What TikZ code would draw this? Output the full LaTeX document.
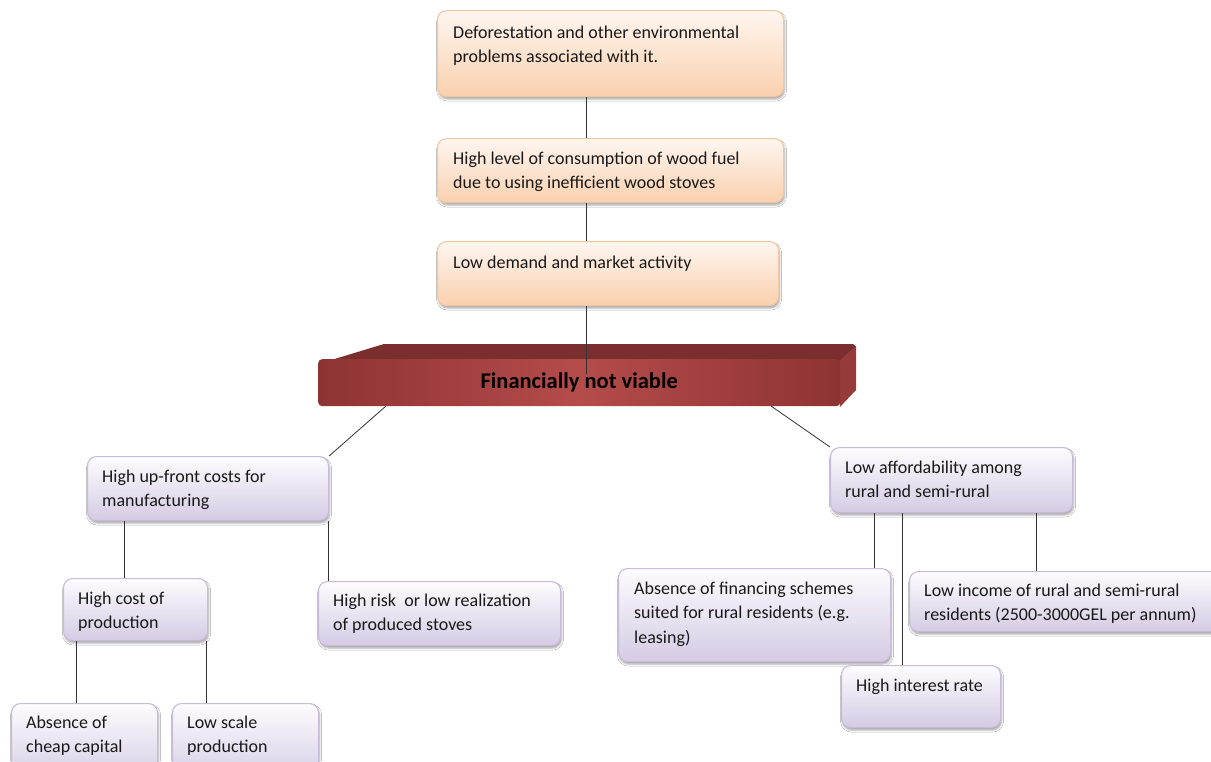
\documentclass[tikz,border=0pt]{standalone}
\usepackage{fontspec}
\setmainfont{Carlito}
\usetikzlibrary{shadows.blur,calc}
\definecolor{ortop}{HTML}{FEF6F0}
\definecolor{orbot}{HTML}{FAD0AE}
\definecolor{orline}{HTML}{F3C7A3}
\definecolor{putop}{HTML}{FDFCFE}
\definecolor{pubot}{HTML}{D5CBE4}
\definecolor{puline}{HTML}{C8BCDA}
\definecolor{banedge}{HTML}{8E3333}
\definecolor{banmid}{HTML}{B44C4A}
\definecolor{bantop}{HTML}{7A2E2E}
\definecolor{banside}{HTML}{963A3A}
\tikzset{
  boxbase/.style={anchor=north west, inner sep=0pt, rounded corners=9pt, line width=1.1pt,
    blur shadow={shadow xshift=1pt, shadow yshift=-2.5pt, shadow blur radius=2pt, shadow opacity=35}},
  obox/.style={boxbase, draw=orline, top color=ortop, bottom color=orbot},
  pbox/.style={boxbase, draw=puline, top color=putop, bottom color=pubot},
  txt/.style={anchor=north west, inner sep=0pt, align=left, text=black!90, yshift=-1.5pt,
    font=\fontsize{18}{24.5}\selectfont},
  link/.style={draw=black!80, line width=0.8pt},
}
\begin{document}
\begin{tikzpicture}[x=1pt,y=-1pt]
\useasboundingbox (0,0) rectangle (1211,761);
\fill[white] (0,0) rectangle (1211,761);

% top chain
\node[obox, minimum width=346pt, minimum height=86pt] (b1) at (437,10) {};
\node[txt] (t1) at (453,24) {Deforestation and other environmental\\problems associated with it.};
\node[obox, minimum width=346pt, minimum height=64pt] (b2) at (437,138) {};
\node[txt] (t2) at (453,150) {High level of consumption of wood fuel\\due to using inefficient wood stoves};
\node[obox, minimum width=341pt, minimum height=64pt] (b3) at (437,241) {};
\node[txt] (t3) at (453,254) {Low demand and market activity};

% banner
\fill[bantop] (318,364) -- (384,344) -- (853,344) -- (856,347) -- (840,361) -- cycle;
\fill[banside] (838,362) -- (856,346) -- (856,390) -- (840,407) -- cycle;
\node[anchor=north west, inner sep=0pt, rounded corners=4pt, minimum width=522pt, minimum height=47pt,
  left color=banedge, right color=banedge, middle color=banmid,
  font=\fontsize{22.5}{24}\selectfont\bfseries, text=black] (fin) at (318,359) {Financially not viable};

\coordinate (spine) at (586,0);
\coordinate (finin) at (586,374);
\draw[link] (spine |- b1.south) -- (spine |- b2.north);
\draw[link] (spine |- b2.south) -- (spine |- b3.north);
\draw[link] (spine |- b3.south) -- (finin);

% second level
\node[pbox, minimum width=241pt, minimum height=64pt] (b5) at (87,456) {};
\node[txt] (t5) at (102,468) {High up-front costs for\\manufacturing};
\node[pbox, minimum width=242pt, minimum height=65pt] (b6) at (830,447) {};
\node[txt] (t6) at (845,459) {Low affordability among\\rural and semi-rural};

\coordinate (finL) at (386,406);
\coordinate (finR) at (771,406);
\draw[link] (finL) -- (b5.north east);
\draw[link] (finR) -- (b6.north west);

% left branch
\node[pbox, minimum width=144pt, minimum height=62pt] (b7) at (63,578) {};
\node[txt] (t7) at (78,590) {High cost of\\production};
\node[pbox, minimum width=242pt, minimum height=64pt] (b8) at (318,581) {};
\node[txt] (t8) at (333,592) {High risk\ \ or low realization\\of produced stoves};
\node[pbox, minimum width=146pt, minimum height=80pt] (b9) at (11,703) {};
\node[txt] (t9) at (26,714) {Absence of\\cheap capital};
\node[pbox, minimum width=146pt, minimum height=80pt] (b10) at (172,703) {};
\node[txt] (t10) at (187,714) {Low scale\\production};

\coordinate (xa) at (124,0);
\coordinate (xb) at (328,0);
\coordinate (xc) at (76,0);
\coordinate (xd) at (206,0);
\draw[link] (xa |- b5.south) -- (xa |- b7.north);
\draw[link] (xb |- b5.south) -- (xb |- b8.north);
\draw[link] (xc |- b7.south) -- (xc |- b9.north);
\draw[link] (xd |- b7.south) -- (xd |- b10.north);

% right branch
\node[pbox, minimum width=272pt, minimum height=93pt] (b11) at (618,568) {};
\node[txt] (t11) at (634,580) {Absence of financing schemes\\suited for rural residents (e.g.\\leasing)};
\node[pbox, minimum width=320pt, minimum height=60pt] (b12) at (909,571) {};
\node[txt] (t12) at (924,582) {Low income of rural and semi-rural\\residents (2500-3000GEL per annum)};
\node[pbox, minimum width=159pt, minimum height=62pt] (b13) at (841,665) {};
\node[txt] (t13) at (856,677) {High interest rate};

\coordinate (xe) at (874,0);
\coordinate (xf) at (902,0);
\coordinate (xg) at (1036,0);
\draw[link] (xe |- b6.south) -- (xe |- b11.north);
\draw[link] (xf |- b6.south) -- (xf |- b13.north);
\draw[link] (xg |- b6.south) -- (xg |- b12.north);
\end{tikzpicture}
\end{document}
